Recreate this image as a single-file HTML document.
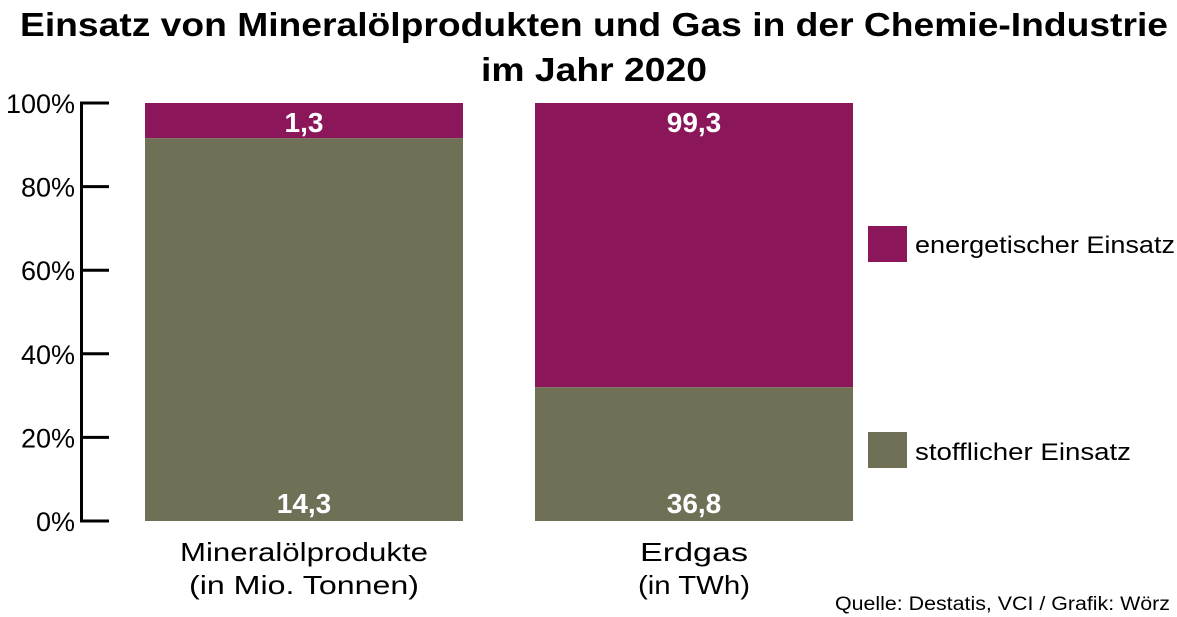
<!DOCTYPE html>
<html><head><meta charset="utf-8"><style>
body{margin:0;background:#fff;}
svg{display:block;font-family:"Liberation Sans","DejaVu Sans",sans-serif;}
</style></head><body>
<svg id="chart" width="1177" height="617" viewBox="0 0 1177 617">
<text x="594" y="36" text-anchor="middle" font-size="33" font-weight="bold" fill="#000" textLength="1148" lengthAdjust="spacingAndGlyphs">Einsatz von Mineralölprodukten und Gas in der Chemie-Industrie</text>
<text x="594" y="81" text-anchor="middle" font-size="33" font-weight="bold" fill="#000" textLength="226" lengthAdjust="spacingAndGlyphs">im Jahr 2020</text>
<g id="axis"></g>
<g id="bars"></g>
<g>
<rect x="868" y="226" width="39" height="36" fill="#8B165A"/>
<text x="915" y="253" font-size="24" fill="#000" textLength="260" lengthAdjust="spacingAndGlyphs">energetischer Einsatz</text>
<rect x="868" y="432" width="39" height="36" fill="#6F7056"/>
<text x="915" y="460" font-size="24" fill="#000" textLength="216" lengthAdjust="spacingAndGlyphs">stofflicher Einsatz</text>
</g>
<text x="1170" y="610" text-anchor="end" font-size="19" fill="#000" textLength="335" lengthAdjust="spacingAndGlyphs">Quelle: Destatis, VCI / Grafik: Wörz</text>
</svg>
<script>
const categories = ["Mineralölprodukte", "Erdgas"];
const categoryUnits = ["(in Mio. Tonnen)", "(in TWh)"];
const stofflichValues = [14.3, 36.8];
const energetischValues = [1.3, 99.3];
const stofflichPct = [91.6, 32];
const tickValues = [0, 20, 40, 60, 80, 100];
const tickLabels = ["0%", "20%", "40%", "60%", "80%", "100%"];

const NS = "http://www.w3.org/2000/svg";
const y0 = 521, y1 = 103;
const yScale = v => y0 - (v / 100) * (y0 - y1);
const barX = i => 145 + i * 390;
const barW = 318;
const catW = [248, 108];
const unitW = [230, 112];
function mk(tag, attrs, parent) {
  const e = document.createElementNS(NS, tag);
  for (const k in attrs) e.setAttribute(k, attrs[k]);
  parent.appendChild(e);
  return e;
}
const fmt = v => v.toFixed(1).replace(".", ",");
const axis = document.getElementById("axis");
const al = mk("line", {x1: 81.5, x2: 81.5, y1: yScale(0) + 1.5, y2: yScale(100) - 1.5, stroke: "#000", "stroke-width": 3}, axis);


tickValues.forEach((v, i) => {
  const t = mk("line", {x1: 80, x2: 109, y1: yScale(v), y2: yScale(v), stroke: "#000", "stroke-width": 3}, axis);
  
  
  const l = mk("text", {x: 75, y: yScale(v) + 10, "text-anchor": "end", "font-size": 27, fill: "#000"}, axis);
  
  
  l.textContent = tickLabels[i];
});
const bars = document.getElementById("bars");
categories.forEach((c, i) => {
  const x = barX(i), cx = x + barW / 2;
  const split = yScale(stofflichPct[i]);
  const r1 = mk("rect", {x: x, y: yScale(100), width: barW, height: split - yScale(100), fill: "#8B165A"}, bars);
  
  
  const r2 = mk("rect", {x: x, y: split, width: barW, height: yScale(0) - split, fill: "#6F7056"}, bars);
  
  
  const t1 = mk("text", {x: cx, y: yScale(100) + 29, "text-anchor": "middle", "font-size": 28, "font-weight": "bold", fill: "#fff"}, bars);
  
  
  t1.textContent = fmt(energetischValues[i]);
  const t2 = mk("text", {x: cx, y: yScale(0) - 8, "text-anchor": "middle", "font-size": 28, "font-weight": "bold", fill: "#fff"}, bars);
  
  
  t2.textContent = fmt(stofflichValues[i]);
  const c1 = mk("text", {x: cx, y: 561, "text-anchor": "middle", "font-size": 26, fill: "#000", textLength: catW[i], lengthAdjust: "spacingAndGlyphs"}, bars);
  
  
  c1.textContent = c;
  const c2 = mk("text", {x: cx, y: 594, "text-anchor": "middle", "font-size": 26, fill: "#000", textLength: unitW[i], lengthAdjust: "spacingAndGlyphs"}, bars);
  
  
  c2.textContent = categoryUnits[i];
});
</script>
</body></html>
